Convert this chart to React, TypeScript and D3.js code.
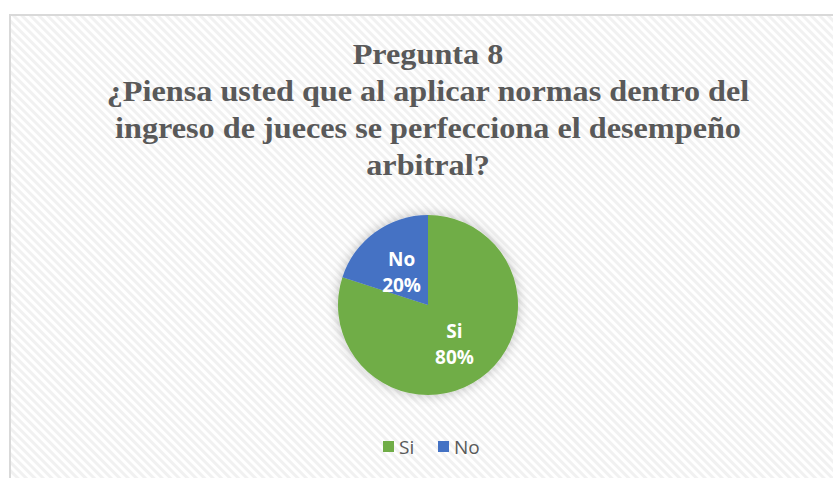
import React, { useEffect, useRef } from 'react';
import * as d3 from 'd3';

const categories = ['Si', 'No'];
const values = [80, 20];
const colors = ['#70AD47', '#4472C4'];
const titleLines = [
  'Pregunta 8',
  '¿Piensa usted que al aplicar normas dentro del',
  'ingreso de jueces se perfecciona el desempeño',
  'arbitral?',
];

const W = 833;
const H = 478;

export default function App() {
  const ref = useRef<SVGSVGElement>(null);

  useEffect(() => {
    if (!ref.current) return;
    const svg = d3.select(ref.current);
    svg.selectAll('*').remove();

    const defs = svg.append('defs');
    const pat = defs.append('pattern')
      .attr('id', 'hatch')
      .attr('patternUnits', 'userSpaceOnUse')
      .attr('width', 6)
      .attr('height', 6)
      .attr('patternTransform', 'rotate(-45)');
    pat.append('rect').attr('width', 6).attr('height', 6).attr('fill', '#f1f1f1');
    pat.append('rect').attr('width', 3).attr('height', 6).attr('fill', '#ffffff');

    const f = defs.append('filter').attr('id', 'glow')
      .attr('x', '-30%').attr('y', '-30%').attr('width', '160%').attr('height', '160%');
    f.append('feGaussianBlur').attr('in', 'SourceAlpha').attr('stdDeviation', 6).attr('result', 'b');
    f.append('feFlood').attr('flood-color', '#000').attr('flood-opacity', 0.25);
    f.append('feComposite').attr('in2', 'b').attr('operator', 'in').attr('result', 's');
    const m = f.append('feMerge');
    m.append('feMergeNode').attr('in', 's');
    m.append('feMergeNode').attr('in', 'SourceGraphic');

    svg.append('rect').attr('width', W).attr('height', H).attr('fill', '#fff');

    // chart frame, runs off right/bottom edges
    svg.append('rect')
      .attr('x', 10).attr('y', 15)
      .attr('width', W).attr('height', H)
      .attr('fill', 'url(#hatch)')
      .attr('stroke', '#d9d9d9')
      .attr('stroke-width', 2);

    // title (source text is a bit wide, so stretch horizontally)
    const title = svg.append('text')
      .attr('text-anchor', 'middle')
      .attr('transform', 'translate(428,0) scale(1.075,1)')
      .attr('font-family', '"Liberation Serif", "Times New Roman", serif')
      .attr('font-weight', 'bold')
      .attr('font-size', 30)
      .attr('fill', '#595959');
    titleLines.forEach((t, i) => {
      title.append('tspan').attr('x', 0).attr('y', 64 + i * 37).text(t);
    });

    // pie
    const cx = 428, cy = 305, r = 90;
    const pie = d3.pie<number>().sort(null).value(d => d);
    const arcs = pie(values);
    const arc = d3.arc<d3.PieArcDatum<number>>().innerRadius(0).outerRadius(r);
    const labelArc = d3.arc<d3.PieArcDatum<number>>().innerRadius(0).outerRadius(r);

    const g = svg.append('g').attr('transform', `translate(${cx},${cy})`);
    g.append('g').attr('filter', 'url(#glow)')
      .selectAll('path')
      .data(arcs)
      .enter()
      .append('path')
      .attr('d', arc)
      .attr('fill', (d, i) => colors[i]);

    const total = d3.sum(values);
    const lbl = g.selectAll('text.lbl')
      .data(arcs)
      .enter()
      .append('text')
      .attr('class', 'lbl')
      .attr('text-anchor', 'middle')
      .attr('font-family', '"Open Sans", "Noto Sans", sans-serif')
      .attr('font-weight', 'bold')
      .attr('font-size', 19)
      .attr('fill', '#fff')
      .attr('transform', d => {
        const [x, y] = labelArc.centroid(d);
        return `translate(${x},${y})`;
      });
    lbl.append('tspan').attr('x', 0).attr('y', -3).text((d, i) => categories[i]);
    lbl.append('tspan').attr('x', 0).attr('y', 23)
      .text(d => `${Math.round((d.value / total) * 100)}%`);

    // legend
    const legend = svg.append('g').attr('transform', 'translate(383,441)');
    const offs = [0, 55];
    categories.forEach((c, i) => {
      const lg = legend.append('g').attr('transform', `translate(${offs[i]},0)`);
      lg.append('rect').attr('width', 11).attr('height', 11).attr('fill', colors[i]);
      lg.append('text')
        .attr('x', 16).attr('y', 13)
        .attr('font-family', '"Open Sans", "Noto Sans", sans-serif')
        .attr('font-size', 19)
        .attr('fill', '#595959')
        .text(c);
    });
  }, []);

  return (
    <svg ref={ref} width={W} height={H}
      style={{ position: 'absolute', left: 0, top: 0, display: 'block' }} />
  );
}
